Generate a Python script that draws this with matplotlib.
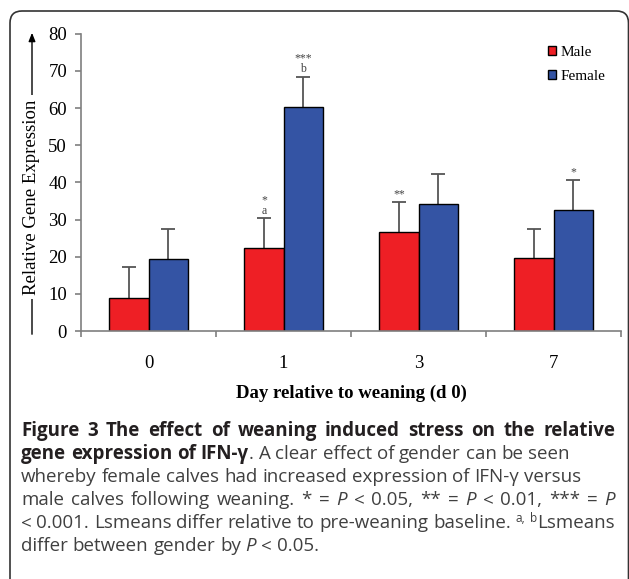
import numpy as np
import matplotlib
matplotlib.use('Agg')
import matplotlib.pyplot as plt
from matplotlib.patches import Patch, FancyBboxPatch
from matplotlib.transforms import IdentityTransform

# data
days = ['0', '1', '3', '7']
male = [8.8, 22.2, 26.6, 19.6]
male_err = [8.3, 8.1, 8.2, 7.8]
female = [19.4, 60.4, 34.1, 32.5]
female_err = [8.1, 8.0, 8.2, 8.2]
male_stars = ['', '*', '**', '']
male_letters = ['', 'a', '', '']
female_stars = ['', '***', '', '*']
female_letters = ['', 'b', '', '']
yticks = [0, 10, 20, 30, 40, 50, 60, 70, 80]

red = '#ee1f25'
blue = '#3454a4'
grey = '#7f7f7f'

W, H = 629, 579
fig = plt.figure(figsize=(W / 100, H / 100), dpi=100)

def fx(px):
    return px / W

def fy(py):
    return 1 - py / H

serif = 'Liberation Serif'

# --- chart -----------------------------------------------------------------
ax = fig.add_axes([fx(81), fy(331), fx(621) - fx(81), fy(33.7) - fy(331)])
x = np.arange(len(days))
bw = 0.29
ax.bar(x - bw / 2, male, bw, color=red, edgecolor='black', linewidth=1, zorder=2)
ax.bar(x + bw / 2, female, bw, color=blue, edgecolor='black', linewidth=1, zorder=2)
for xs, vals, errs in [(x - bw / 2, male, male_err), (x + bw / 2, female, female_err)]:
    eb = ax.errorbar(xs, vals, yerr=[np.zeros(len(x)), errs], fmt='none',
                     ecolor='#555555', elinewidth=1.3, capsize=5, capthick=1.3, zorder=1)
    # only the upper cap is wanted
    eb.lines[1][0].set_visible(False)

# significance marks above the error bars
def marks(xs, tops, stars, letters):
    for xi, top, st, le in zip(xs, tops, stars, letters):
        off = 1
        if le:
            ax.annotate(le, (xi, top), xytext=(0, off), textcoords='offset points',
                        ha='center', va='bottom', fontsize=8.5, family=serif, color='#444444')
            off += 8
        if st:
            ax.annotate(st, (xi, top), xytext=(0, off), textcoords='offset points',
                        ha='center', va='bottom', fontsize=8.5, family=serif, color='#444444')

marks(x - bw / 2, np.add(male, male_err), male_stars, male_letters)
marks(x + bw / 2, np.add(female, female_err), female_stars, female_letters)

ax.set_xlim(-0.5, len(days) - 0.5)
ax.set_ylim(0, 80)
ax.set_yticks(yticks)
ax.set_yticklabels([str(v) for v in yticks], family=serif, fontsize=13.5)
ax.set_xticks(np.arange(len(days) + 1) - 0.5)
ax.set_xticklabels([])
ax.set_xticks(x, minor=True)
ax.set_xticklabels(days, minor=True, family=serif, fontsize=13.5)
ax.tick_params(axis='y', length=4.5, width=1.2, color=grey, pad=5.5)
ax.tick_params(axis='x', which='major', length=4.5, width=1.2, color=grey)
ax.tick_params(axis='x', which='minor', length=0, pad=17)
for s in ['top', 'right']:
    ax.spines[s].set_visible(False)
for s in ['left', 'bottom']:
    ax.spines[s].set_color(grey)
    ax.spines[s].set_linewidth(1.2)

fig.text(fx(351), fy(393), 'Day relative to weaning (d 0)', ha='center', va='center',
         family=serif, fontsize=13.5, weight='bold')

# y label with arrow running through it
fig.add_artist(plt.Annotation('', xy=(fx(32), fy(30)), xytext=(fx(32), fy(337)),
                              xycoords='figure fraction',
                              arrowprops=dict(arrowstyle='-|>,head_length=0.5,head_width=0.2',
                                              color='black', lw=1)))
fig.text(fx(32), fy(197), 'Relative Gene Expression', rotation=90, ha='center', va='center',
         family=serif, fontsize=13.5,
         bbox=dict(facecolor='white', edgecolor='none', pad=3))

handles = [Patch(facecolor=red, edgecolor='black', label='Male'),
           Patch(facecolor=blue, edgecolor='black', label='Female')]
fig.legend(handles=handles, loc='upper left', bbox_to_anchor=(fx(540), fy(38)),
           frameon=False, prop=dict(family=serif, size=11), handlelength=0.55,
           handleheight=0.55, handletextpad=0.3, labelspacing=0.75, borderpad=0)

# --- border ----------------------------------------------------------------
fig.add_artist(FancyBboxPatch((10, -30), 618.5, H - 11 + 30,
                              boxstyle='round,pad=0,rounding_size=12',
                              transform=IdentityTransform(), facecolor='none',
                              edgecolor='#333333', linewidth=1.2))

# --- caption ---------------------------------------------------------------
cap_font = 'Open Sans'
cap_size = 13.5
styles = {
    'b': dict(weight='bold', color='#231f20'),
    'r': dict(color='#404040'),
    'i': dict(style='italic', color='#404040'),
    's': dict(color='#404040', fontsize=8.5),
}
caption = [
    ([('Figure 3 The effect of weaning induced stress on the relative', 'b')], True),
    ([('gene expression of IFN-\u03b3', 'b'), ('. A clear effect of gender can be seen', 'r')], False),
    ([('whereby female calves had increased expression of IFN-\u03b3 versus', 'r')], False),
    ([('male calves following weaning. * = ', 'r'), ('P', 'i'), (' < 0.05, ** = ', 'r'), ('P', 'i'),
      (' < 0.01, *** = ', 'r'), ('P', 'i')], True),
    ([('< 0.001. Lsmeans differ relative to pre-weaning baseline. ', 'r'), ('a, b', 's'),
      ('Lsmeans', 'r')], True),
    ([('differ between gender by ', 'r'), ('P', 'i'), (' < 0.05.', 'r')], False),
]
renderer = fig.canvas.get_renderer()

def width_of(t):
    return t.get_window_extent(renderer).width / fig.bbox.width

probe1 = fig.text(0, 0, 'x x', family=cap_font, fontsize=cap_size)
probe2 = fig.text(0, 0, 'xx', family=cap_font, fontsize=cap_size)
space = width_of(probe1) - width_of(probe2)
probe1.remove()
probe2.remove()

left, right = fx(21), fx(615)
for n, (runs, justify) in enumerate(caption):
    yb = fy(436 + 23 * n)
    words = []
    for text, st in runs:
        parts = text.split(' ')
        for i, p in enumerate(parts):
            if i == 0 and words:
                words[-1].append((p, st))
            else:
                words.append([(p, st)])
    words = [w for w in words if any(p for p, s in w)]
    drawn = []
    total = 0
    for w in words:
        pieces = []
        for p, st in w:
            if not p:
                continue
            kw = dict(family=cap_font, fontsize=cap_size)
            kw.update(styles[st])
            t = fig.text(0, yb, p, va='baseline', ha='left', **kw)
            wd = width_of(t)
            pieces.append((t, wd, st))
            total += wd
        drawn.append(pieces)
    gap = space
    if justify and len(drawn) > 1:
        gap = (right - left - total) / (len(drawn) - 1)
    xc = left
    for pieces in drawn:
        for t, wd, st in pieces:
            if st == 's':
                t.set_position((xc, yb + 6 / H))
            else:
                t.set_position((xc, yb))
            xc += wd
        xc += gap

fig.savefig('out.png', dpi=100)
